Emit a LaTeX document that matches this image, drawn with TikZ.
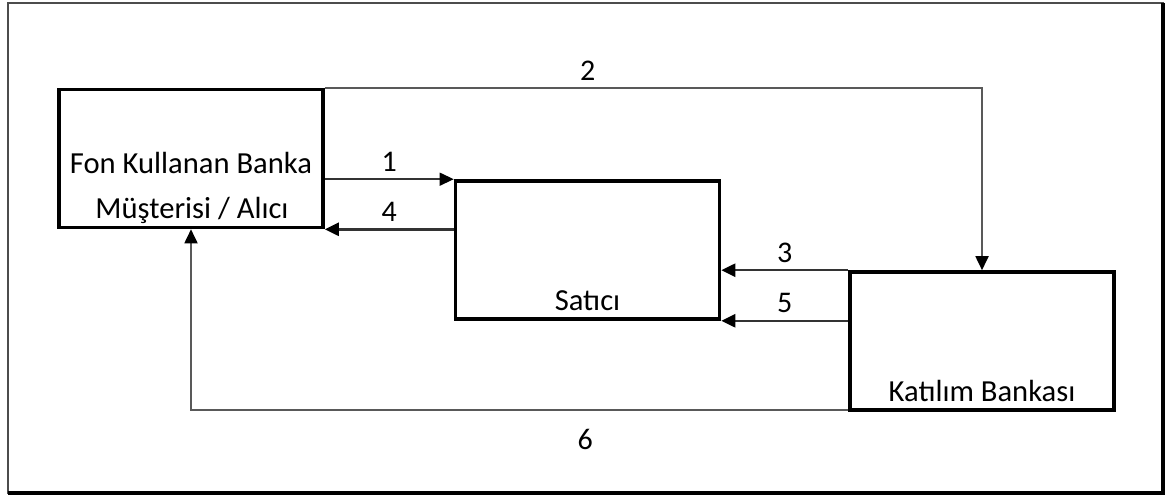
\documentclass[tikz,border=0pt]{standalone}
\usepackage{fontspec}
\setmainfont{Carlito}
\usepackage{tikz}
\usetikzlibrary{arrows.meta,positioning}

\begin{document}
\begin{tikzpicture}[
    x=0.5pt, y=-0.5pt,
    kutu/.style={draw, line width=1.8pt, minimum width=132pt, minimum height=69pt, inner sep=0pt},
    yazi/.style={font=\fontsize{15.3}{18}\selectfont, inner sep=1pt},
    ok/.style={draw=black!80, line width=0.9pt, -{Triangle[length=7pt,width=6.5pt,color=black]}},
    etiket/.style={font=\fontsize{15}{18}\selectfont, text=black},
  ]
  \useasboundingbox (0,0) rectangle (1170,502);
  % cerceve
  \draw[black!70, line width=0.6pt] (8,3) rectangle (1163,493);
  \draw[line width=1.6pt] (1163,3) -- (1163,493) -- (8,493);

  % kutular
  \node[kutu] (musteri) at (191,158.5) {};
  \node[kutu] (satici) at (587.5,250) {};
  \node[kutu] (katilim) at (982,341) {};
  \node[yazi] (musteriyazi1) at (191,163) {Fon Kullanan Banka};
  \node[yazi] (musteriyazi2) at (192,210) {Müşterisi / Alıcı};
  \node[yazi, above=4pt of satici.south] (saticiyazi) {Satıcı};
  \node[yazi, above=4pt of katilim.south] (katilimyazi) {Katılım Bankası};

  % oklar
  \draw[ok, black!65] (musteri.north east) -| (katilim.north)
    node[etiket, above, pos=0.2] {2};
  \draw[ok, line width=0.7pt] (satici.north west -| musteri.east) -- (satici.north west)
    node[etiket, midway, above] {1};
  \draw[ok, line width=1.2pt] (musteri.south east -| satici.west) -- (musteri.south east)
    node[etiket, midway, above] {4};
  \draw[ok, line width=1.2pt] (katilim.north west) -- (katilim.north west -| satici.east)
    node[etiket, midway, above] {3};
  \draw[ok, line width=1.2pt] (satici.south east -| katilim.west) -- (satici.south east)
    node[etiket, midway, above] {5};
  \draw[ok, black!65] ([yshift=1pt]katilim.south west) -| (musteri.south)
    node[etiket, below=6pt, pos=0.2] {6};
\end{tikzpicture}
\end{document}
